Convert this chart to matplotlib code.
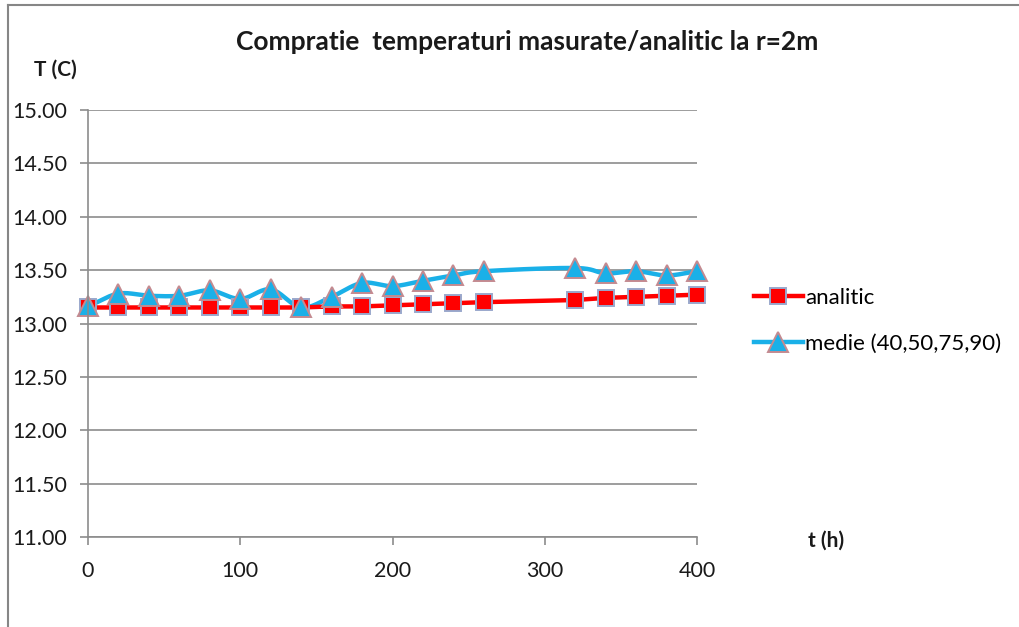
import numpy as np
import matplotlib
matplotlib.use("Agg")
import matplotlib.pyplot as plt
from matplotlib.lines import Line2D

# Time (h)
t_analitic = [0, 20, 40, 60, 80, 100, 120, 140, 160, 180, 200, 220, 240, 260,
              320, 340, 360, 380, 400]
T_analitic = [13.15, 13.15, 13.15, 13.15, 13.15, 13.15, 13.15, 13.15, 13.16, 13.16,
              13.17, 13.18, 13.19, 13.20, 13.22, 13.24, 13.25, 13.26, 13.27]
t_medie = t_analitic
T_medie = [13.16, 13.28, 13.26, 13.26, 13.31, 13.23, 13.32, 13.15, 13.25, 13.38,
           13.35, 13.40, 13.45, 13.49, 13.52, 13.47, 13.49, 13.45, 13.49]

x_ticks = [0, 100, 200, 300, 400]
y_ticks = [11.0, 11.5, 12.0, 12.5, 13.0, 13.5, 14.0, 14.5, 15.0]

title = "Compratie  temperaturi masurate/analitic la r=2m"
labels = ["analitic", "medie (40,50,75,90)"]


def smooth_curve(x, y, n=20):
    """Catmull-Rom curve through the points (a smoothed line)."""
    x = np.asarray(x, float)
    y = np.asarray(y, float)
    px = np.concatenate([[2 * x[0] - x[1]], x, [2 * x[-1] - x[-2]]])
    py = np.concatenate([[2 * y[0] - y[1]], y, [2 * y[-1] - y[-2]]])
    xs, ys = [], []
    s = np.linspace(0, 1, n, endpoint=False)
    for i in range(1, len(px) - 2):
        p0, p1, p2, p3 = (np.array([px[j], py[j]]) for j in range(i - 1, i + 3))
        m1 = (p2 - p0) / 6.0
        m2 = (p3 - p1) / 6.0
        b1, b2 = p1 + m1, p2 - m2
        pts = ((1 - s) ** 3)[:, None] * p1 + (3 * (1 - s) ** 2 * s)[:, None] * b1 \
            + (3 * (1 - s) * s ** 2)[:, None] * b2 + (s ** 3)[:, None] * p2
        xs.extend(pts[:, 0])
        ys.extend(pts[:, 1])
    xs.append(x[-1])
    ys.append(y[-1])
    return np.array(xs), np.array(ys)


plt.rcParams["font.family"] = ["Lato", "DejaVu Sans"]

W, H = 1019, 627
fig = plt.figure(figsize=(W / 100, H / 100), dpi=100)

# chart frame: top and left edges of the chart area
frame_kw = dict(transform=fig.transFigure, color="#868686", linewidth=1.5)
fig.add_artist(Line2D([8 / W, 1.0], [1 - 5 / H, 1 - 5 / H], **frame_kw))
fig.add_artist(Line2D([8 / W, 8 / W], [0.0, 1 - 5 / H], **frame_kw))

ax = fig.add_axes([88 / W, 1 - 537 / H, (697 - 88) / W, (537 - 110) / H])
ax.set_xlim(0, 400)
ax.set_ylim(11, 15)
ax.set_xticks(x_ticks)
ax.set_yticks(y_ticks)
ax.set_yticklabels([f"{v:.2f}" for v in y_ticks])
ax.yaxis.grid(True, color="#8c8c8c", linewidth=1.2)
ax.set_axisbelow(True)
for side in ("top", "right"):
    ax.spines[side].set_visible(False)
for side in ("left", "bottom"):
    ax.spines[side].set_color("#8c8c8c")
    ax.spines[side].set_linewidth(1.2)
ax.tick_params(axis="both", colors="#8c8c8c", length=6, width=1.2,
               labelcolor="#1a1a1a", labelsize=15.5)
ax.tick_params(axis="x", pad=11)
ax.tick_params(axis="y", pad=9)

red = "#ff0000"
blue = "#1ab0e8"

xs, ys = smooth_curve(t_medie, T_medie)
ax.plot(xs, ys, color=blue, linewidth=3.2, solid_capstyle="round", clip_on=False)
ax.plot(t_analitic, T_analitic, color=red, linewidth=3.2, clip_on=False)
ax.plot(t_analitic, T_analitic, linestyle="none", marker="s", markersize=12,
        markerfacecolor=red, markeredgecolor="#9aa8cc", markeredgewidth=1.4,
        clip_on=False)
ax.plot(t_medie, T_medie, linestyle="none", marker="^", markersize=14,
        markerfacecolor=blue, markeredgecolor="#c48a90", markeredgewidth=1.4,
        clip_on=False)

fig.text(527 / W, 1 - 42 / H, title, ha="center", va="center",
         fontsize=19, fontweight="bold", color="#1a1a1a")
fig.text(34 / W, 1 - 70 / H, "T (C)", ha="left", va="center",
         fontsize=15, fontweight="bold", color="#1a1a1a")
fig.text(808 / W, 1 - 541 / H, "t (h)", ha="left", va="center",
         fontsize=15, fontweight="bold", color="#1a1a1a")

handles = [
    Line2D([], [], color=red, linewidth=3.2, marker="s", markersize=12,
           markerfacecolor=red, markeredgecolor="#9aa8cc", markeredgewidth=1.4),
    Line2D([], [], color=blue, linewidth=3.2, marker="^", markersize=14,
           markerfacecolor=blue, markeredgecolor="#c48a90", markeredgewidth=1.4),
]
fig.legend(handles, labels, loc="center left", bbox_to_anchor=(754 / W, 1 - 321 / H),
           frameon=False, fontsize=16, handlelength=2.2, handletextpad=0.1,
           labelspacing=1.15, borderaxespad=0, borderpad=0)

fig.savefig("out.png", dpi=100)
